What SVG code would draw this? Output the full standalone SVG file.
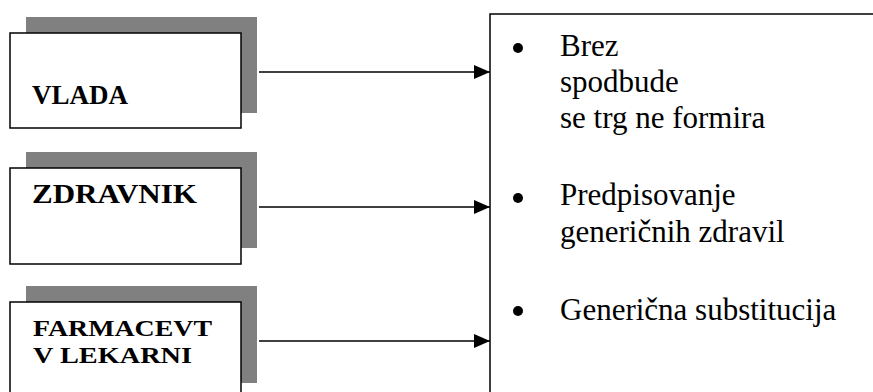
<svg xmlns="http://www.w3.org/2000/svg" width="873" height="392" viewBox="0 0 873 392">
<style>
.sh{fill:#808080}
.bx{fill:#fff;stroke:#000;stroke-width:1.5}
.lb{font-family:"Liberation Serif","Times New Roman",serif;font-weight:bold;font-size:27px;fill:#000}
.lb2{font-family:"Liberation Serif","Times New Roman",serif;font-weight:bold;font-size:24px;fill:#000}
.tx{font-family:"Liberation Serif","Times New Roman",serif;font-size:31px;fill:#000}
.cn{stroke:#000;stroke-width:1.4;fill:none}
</style>
<defs>
<marker id="ah" viewBox="0 0 16 14" refX="16" refY="7" markerWidth="16" markerHeight="14" markerUnits="userSpaceOnUse" orient="auto">
<path d="M0,0 L16,7 L0,14 Z" fill="#000"/>
</marker>
</defs>
<rect width="873" height="392" fill="#fff"/>
<g id="vlada">
<rect class="sh" x="26" y="17" width="231" height="96"/>
<rect class="bx" x="10" y="33" width="231" height="95"/>
<text class="lb" x="32" y="104" textLength="96" lengthAdjust="spacingAndGlyphs">VLADA</text>
</g>
<g id="zdravnik">
<rect class="sh" x="26" y="152" width="231" height="96"/>
<rect class="bx" x="10" y="168" width="231" height="96"/>
<text class="lb" x="32" y="203" textLength="165" lengthAdjust="spacingAndGlyphs">ZDRAVNIK</text>
</g>
<g id="farmacevt">
<rect class="sh" x="26" y="286" width="231" height="97"/>
<rect class="bx" x="10" y="302" width="231" height="100"/>
<text class="lb2" x="33" y="336" textLength="179" lengthAdjust="spacingAndGlyphs">FARMACEVT</text>
<text class="lb2" x="33" y="363" textLength="159" lengthAdjust="spacingAndGlyphs">V LEKARNI</text>
</g>
<g id="connectors">
<line class="cn" x1="259" y1="72" x2="490" y2="72" marker-end="url(#ah)"/>
<line class="cn" x1="259" y1="207" x2="490" y2="207" marker-end="url(#ah)"/>
<line class="cn" x1="259" y1="341" x2="490" y2="341" marker-end="url(#ah)"/>
</g>
<g id="effects">
<rect class="bx" x="490" y="14" width="400" height="400"/>
<circle cx="518" cy="48" r="5"/>
<circle cx="518" cy="198" r="5"/>
<circle cx="518" cy="311" r="5"/>
<text class="tx" x="560" y="56">Brez</text>
<text class="tx" x="560" y="92">spodbude</text>
<text class="tx" x="560" y="128">se trg ne formira</text>
<text class="tx" x="560" y="205">Predpisovanje</text>
<text class="tx" x="560" y="242">generičnih zdravil</text>
<text class="tx" x="560" y="320">Generična substitucija</text>
</g>
</svg>
